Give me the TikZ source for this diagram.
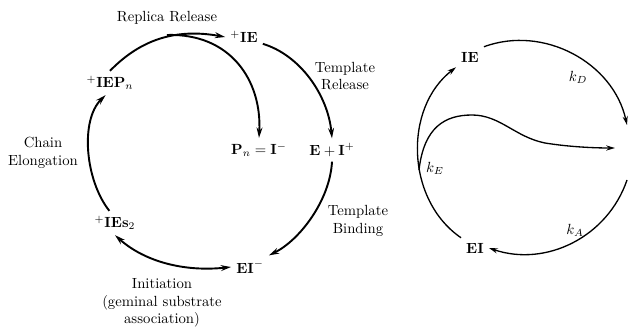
\documentclass[tikz,border=0pt]{standalone}
\usetikzlibrary{arrows.meta}
\begin{document}
\begin{tikzpicture}[x=0.68pt,y=0.68pt]
                        \tikzstyle{rxn}=[line width=1.3pt,-{Stealth[length=7pt,width=4pt]}]
                        \tikzstyle{cyc}=[line width=0.9pt,-{Stealth[length=6pt,width=3.5pt]}]
                        \tikzstyle{lbl}=[align=center]
                        \useasboundingbox (0,0) rectangle (628,327);
                        \node (rr) at (167,309) {Replica Release};
                        \node (ie) at (244,290) {$^{+}\mathbf{IE}$};
                        \node (iep) at (110,244) {$^{+}\mathbf{IEP}_n$};
                        \node[lbl] (trel) at (345,251) {Template\\Release};
                        \node (pn) at (259,177) {$\mathbf{P}_n=\mathbf{I}^{-}$};
                        \node (eip) at (332,177) {$\mathbf{E}+\mathbf{I}^{+}$};
                        \node[lbl] (chain) at (43,174) {Chain\\Elongation};
                        \node (ies) at (115,104) {$^{+}\mathbf{IEs}_2$};
                        \node[lbl] (tbind) at (358,106) {Template\\Binding};
                        \node (ei) at (250,60) {$\mathbf{EI}^{-}$};
                        \node[lbl] (init) at (162,24) {Initiation\\(geminal substrate\\association)};
                        \coordinate (br) at (167,292);
                        \draw[rxn] (iep.north) .. controls (140,287) and (175,299) .. (ie.west);
                        \draw[rxn] (br) .. controls (230,294) and (262,247) .. (pn.north);
                        \draw[rxn] (ie.-20) .. controls (300,272) and (328,232) .. (eip.north);
                        \draw[rxn] (eip.south) .. controls (330,127) and (300,87) .. (ei.north east);
                        \draw[rxn,{Stealth[length=7pt,width=4pt]}-{Stealth[length=7pt,width=4pt]}] (ies.south) .. controls (145,65) and (185,55) .. (ei.west);
                        \draw[rxn] (ies.115) .. controls (85,147) and (80,207) .. (iep.250);
                        \node (rie) at (470,270) {$\mathbf{IE}$};
                        \node (rei) at (475,79) {$\mathbf{EI}$};
                        \node (kd) at (578,250) {$k_D$};
                        \node (ke) at (435,159) {$k_E$};
                        \node (ka) at (575,97) {$k_A$};
                        \coordinate (ra) at (627,202);
                        \coordinate (rb) at (627,147);
                        \coordinate (rl) at (419,157);
                        \coordinate (rc) at (615,179);
                        \draw[cyc] (rie.north east) to[bend left=49] (ra);
                        \draw[cyc] (rb) to[bend left=45] (rei.east);
                        \draw[cyc] (rei.north west) to[bend left=54] (rie.south west);
                        \draw[cyc] (rl) .. controls (424,200) and (445,212) .. (472,212)
                            .. controls (500,212) and (515,190) .. (545,184)
                            .. controls (570,180) and (595,179) .. (rc);
\end{tikzpicture}
\end{document}
